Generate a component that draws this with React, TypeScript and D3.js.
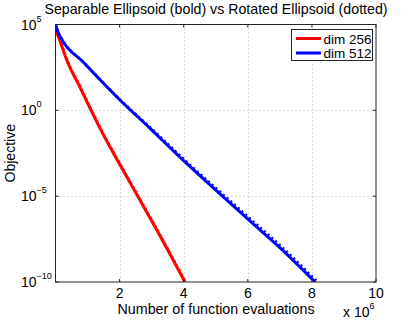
import React, { useRef, useEffect } from "react";
import * as d3 from "d3";

// evaluations in units of 1e6, objective as log10 value
const sepEvals256 = [0, 0.04, 0.14, 0.35, 0.76, 1.08, 1.39, 1.99, 2.58, 3.26, 4.04];
const sepLog256 = [5, 4.6, 4.05, 2.93, 1.36, 0.12, -1.05, -3.1, -5.05, -7.3, -10];
const rotEvals256 = [0, 0.05, 0.15, 0.37, 0.78, 1.1, 1.41, 2.01, 2.6, 3.28, 4.06];
const rotLog256 = [5, 4.6, 4.05, 2.93, 1.36, 0.12, -1.05, -3.1, -5.05, -7.3, -10];

const sepEvals512 = [0, 0.08, 0.24, 0.87, 1.39, 2.01, 2.95, 3.99, 5.21, 5.98, 7.0, 8.1];
const sepLog512 = [5, 4.55, 4.0, 2.8, 1.78, 0.6, -1.05, -2.92, -5.0, -6.3, -8.0, -10];
const rotEvals512 = [0, 0.08, 0.25, 0.88, 1.4, 2.03, 2.99, 4.05, 5.29, 6.07, 7.09, 8.15];
const rotLog512 = [5, 4.55, 4.0, 2.8, 1.78, 0.6, -1.05, -2.92, -5.0, -6.3, -8.0, -9.95];

const xTicks = [2, 4, 6, 8, 10];
const yTickExps = [5, 0, -5, -10];
const legendLabels = ["dim 256", "dim 512"];
const colors = ["#ff0000", "#0000ff"];

const FONT = "Liberation Sans, Arial, Helvetica, sans-serif";

const App = () => {
  const svgRef = useRef<SVGSVGElement>(null);

  const W = 415, H = 321;
  const margin = { top: 24.5, right: 39, bottom: 39, left: 55.5 };

  useEffect(() => {
    const svg = d3.select(svgRef.current);
    svg.selectAll("*").remove();

    const width = W - margin.left - margin.right;
    const height = H - margin.top - margin.bottom;

    const x = d3.scaleLinear().domain([0, 10]).range([margin.left, margin.left + width]);
    const y = d3.scaleLinear().domain([5, -10]).range([margin.top, margin.top + height]);

    svg.append("rect").attr("width", W).attr("height", H).attr("fill", "#fff");

    // grid
    const grid = svg.append("g").attr("stroke", "#b8b8b8").attr("stroke-dasharray", "1,3").attr("stroke-width", 1);
    xTicks.filter(t => t < 10).forEach(t => {
      grid.append("line").attr("x1", Math.round(x(t)) + 0.5).attr("x2", Math.round(x(t)) + 0.5)
        .attr("y1", margin.top).attr("y2", margin.top + height);
    });
    yTickExps.filter(e => e < 5 && e > -10).forEach(e => {
      grid.append("line").attr("y1", Math.round(y(e)) + 0.5).attr("y2", Math.round(y(e)) + 0.5)
        .attr("x1", margin.left).attr("x2", margin.left + width);
    });

    const line = d3.line<[number, number]>().x(d => x(d[0])).y(d => y(d[1])).curve(d3.curveMonotoneX);
    const zip = (a: number[], b: number[]) => a.map((v, i) => [v, b[i]] as [number, number]);

    svg.append("clipPath").attr("id", "plotclip").append("rect")
      .attr("x", margin.left).attr("y", margin.top - 1).attr("width", width).attr("height", height + 1);

    const plot = svg.append("g").attr("clip-path", "url(#plotclip)");

    // rotated (dotted) first, then separable (bold)
    plot.append("path").datum(zip(rotEvals256, rotLog256)).attr("d", line)
      .attr("fill", "none").attr("stroke", colors[0]).attr("stroke-width", 2.5).attr("stroke-dasharray", "2,3");
    plot.append("path").datum(zip(rotEvals512, rotLog512)).attr("d", line)
      .attr("fill", "none").attr("stroke", colors[1]).attr("stroke-width", 2.5).attr("stroke-dasharray", "2,3");
    plot.append("path").datum(zip(sepEvals256, sepLog256)).attr("d", line)
      .attr("fill", "none").attr("stroke", colors[0]).attr("stroke-width", 3).attr("stroke-linejoin", "round");
    plot.append("path").datum(zip(sepEvals512, sepLog512)).attr("d", line)
      .attr("fill", "none").attr("stroke", colors[1]).attr("stroke-width", 3).attr("stroke-linejoin", "round");

    // box
    svg.append("rect").attr("x", margin.left).attr("y", margin.top).attr("width", width).attr("height", height)
      .attr("fill", "none").attr("stroke", "#262626").attr("stroke-width", 1);

    // ticks (inward, both sides)
    const tk = svg.append("g").attr("stroke", "#262626").attr("stroke-width", 1);
    xTicks.forEach(t => {
      tk.append("line").attr("x1", x(t)).attr("x2", x(t)).attr("y1", margin.top + height).attr("y2", margin.top + height - 3);
      tk.append("line").attr("x1", x(t)).attr("x2", x(t)).attr("y1", margin.top).attr("y2", margin.top + 3);
    });
    yTickExps.forEach(e => {
      tk.append("line").attr("y1", y(e)).attr("y2", y(e)).attr("x1", margin.left).attr("x2", margin.left + 3);
      tk.append("line").attr("y1", y(e)).attr("y2", y(e)).attr("x1", margin.left + width).attr("x2", margin.left + width - 3);
    });

    // x tick labels
    svg.append("g").selectAll("text").data(xTicks).enter().append("text")
      .attr("x", d => x(d)).attr("y", margin.top + height + 16)
      .attr("text-anchor", "middle").attr("font-family", FONT).attr("font-size", 14).attr("fill", "#000")
      .text(d => d);

    // y tick labels 10^e
    yTickExps.forEach(e => {
      const t = svg.append("text").attr("x", 21).attr("y", y(e) + 5)
        .attr("font-family", FONT).attr("font-size", 14).attr("fill", "#000");
      t.append("tspan").text("10");
      t.append("tspan").attr("dy", -8).attr("font-size", 9).text(e < 0 ? "\u2212" + (-e) : String(e));
    });

    // title
    svg.append("text").attr("x", 216).attr("y", 14).attr("text-anchor", "middle")
      .attr("font-family", FONT).attr("font-size", 14.2).attr("fill", "#000")
      .text("Separable Ellipsoid (bold) vs Rotated Ellipsoid (dotted)");

    // x label
    svg.append("text").attr("x", 216).attr("y", 314).attr("text-anchor", "middle")
      .attr("font-family", FONT).attr("font-size", 14.3).attr("fill", "#000")
      .text("Number of function evaluations");

    // x multiplier
    const mult = svg.append("text").attr("x", 343).attr("y", 317)
      .attr("font-family", FONT).attr("font-size", 14).attr("fill", "#000");
    mult.append("tspan").text("x 10");
    mult.append("tspan").attr("dy", -8).attr("font-size", 9).text("6");

    // y label
    svg.append("text").attr("transform", `translate(15,${margin.top + height / 2}) rotate(-90)`)
      .attr("text-anchor", "middle").attr("font-family", FONT).attr("font-size", 14).attr("fill", "#000")
      .text("Objective");

    // legend
    const lg = svg.append("g");
    lg.append("rect").attr("x", 291.5).attr("y", 29.5).attr("width", 81).attr("height", 31)
      .attr("fill", "#fff").attr("stroke", "#262626").attr("stroke-width", 1);
    legendLabels.forEach((lab, i) => {
      const ly = 38.5 + i * 14.5;
      lg.append("line").attr("x1", 296).attr("x2", 321).attr("y1", ly).attr("y2", ly)
        .attr("stroke", colors[i]).attr("stroke-width", 3);
      lg.append("text").attr("x", 323.5).attr("y", ly + 5).attr("font-family", FONT).attr("font-size", 13.5)
        .attr("fill", "#000").text(lab);
    });
  }, []);

  return (
    <svg ref={svgRef} width={W} height={H} style={{ position: "absolute", left: 0, top: 0, display: "block" }}></svg>
  );
};

export default App;
